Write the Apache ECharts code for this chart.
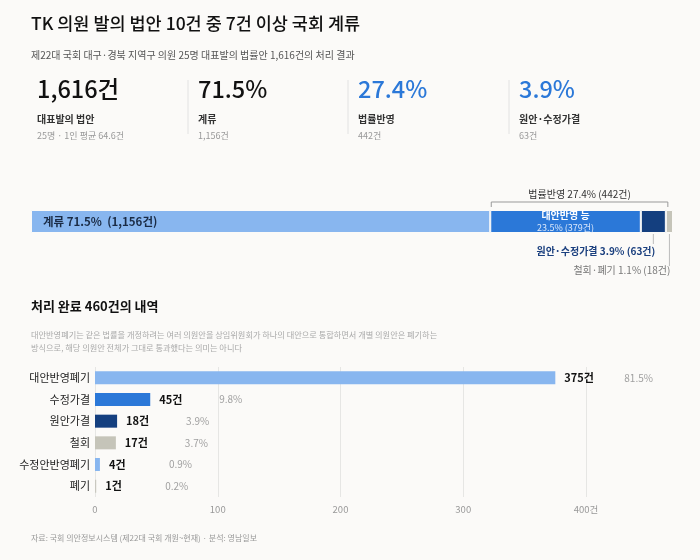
<!DOCTYPE html>
<html>
<head>
<meta charset="utf-8">
<script src="https://cdn.jsdelivr.net/npm/echarts@6/dist/echarts.min.js"></script>
<style>
  html, body { margin: 0; padding: 0; background: #fbfaf8; }
  #chart { width: 700px; height: 560px; }
</style>
</head>
<body>
<div id="chart"></div>
<script>
const FONT = '"Noto Sans CJK KR", "Noto Sans", sans-serif';

// 상단 요약 수치
const kpiValues = ['1,616건', '71.5%', '27.4%', '3.9%'];
const kpiLabels = ['대표발의 법안', '계류', '법률반영', '원안·수정가결'];
const kpiNotes = ['25명 · 1인 평균 64.6건', '1,156건', '442건', '63건'];

// 전체 1,616건 처리 현황 (누적 막대)
const stackNames = ['계류', '대안반영 등', '원안·수정가결', '철회·폐기'];
const stackCounts = [1156, 379, 63, 18];
const stackShares = [71.5, 23.5, 3.9, 1.1];
const reflectedCount = 442;
const reflectedShare = 27.4;

// 처리 완료 460건의 내역
const doneCategories = ['대안반영폐기', '수정가결', '원안가결', '철회', '수정안반영폐기', '폐기'];
const doneCounts = [375, 45, 18, 17, 4, 1];
const doneShares = [81.5, 9.8, 3.9, 3.7, 0.9, 0.2];
const xTickMax = 400;
const xTickStep = 100;

// 색
const kpiColors = ['#111', '#111', '#2b78d8', '#2b78d8'];
const stackColors = ['#88b6ef', '#2b78d8', '#143f7f', '#c5c4b9'];
const doneColors = ['#88b6ef', '#2b78d8', '#143f7f', '#c5c4b9', '#88b6ef', '#c9c8c0'];

function fmt(n) {
  return n.toLocaleString('en-US');
}

function headerGraphics() {
  let g = [];
  g.push({ type: 'text', left: 31, top: 15, style: { text: 'TK 의원 발의 법안 10건 중 7건 이상 국회 계류', font: '500 17.5px ' + FONT, fill: '#111' } });
  g.push({ type: 'text', left: 31, top: 50, style: { text: '제22대 국회 대구·경북 지역구 의원 25명 대표발의 법률안 1,616건의 처리 결과', font: '10px ' + FONT, fill: '#555' } });
  let colX = [37, 198, 358, 519];
  for (var i = 0; i < kpiValues.length; i++) {
    g.push({ type: 'text', left: colX[i], top: 77, style: { text: kpiValues[i], font: '500 23.5px ' + FONT, fill: kpiColors[i] } });
    g.push({ type: 'text', left: colX[i], top: 114, style: { text: kpiLabels[i], font: 'bold 10px ' + FONT, fill: '#333' } });
    g.push({ type: 'text', left: colX[i], top: 131, style: { text: kpiNotes[i], font: '9px ' + FONT, fill: '#999' } });
    if (i > 0) {
      g.push({ type: 'line', shape: { x1: colX[i] - 10, y1: 80, x2: colX[i] - 10, y2: 134 }, style: { stroke: '#e2e2e2', lineWidth: 1 } });
    }
  }
  g.push({ type: 'text', left: 31, top: 300, style: { text: '처리 완료 460건의 내역', font: 'bold 13px ' + FONT, fill: '#111' } });
  g.push({ type: 'text', left: 31, top: 328, style: {
    text: '대안반영폐기는 같은 법률을 개정하려는 여러 의원안을 상임위원회가 하나의 대안으로 통합하면서 개별 의원안은 폐기하는\n방식으로, 해당 의원안 전체가 그대로 통과했다는 의미는 아니다',
    font: '8.2px ' + FONT, fill: '#aaa', lineHeight: 13 } });
  g.push({ type: 'text', left: 31, top: 534, style: { text: '자료: 국회 의안정보시스템 (제22대 국회 개원~현재) · 분석: 영남일보', font: '8px ' + FONT, fill: '#999' } });
  return g;
}

function stackSeries() {
  let list = [];
  for (var i = 0; i < stackNames.length; i++) {
    let s = {
      name: stackNames[i],
      type: 'bar',
      stack: 'all',
      xAxisIndex: 0,
      yAxisIndex: 0,
      barWidth: 23,
      silent: true,
      itemStyle: { color: stackColors[i], borderColor: '#fbfaf8', borderWidth: 1 },
      data: [stackCounts[i]]
    };
    if (i == 0) {
      s.label = { show: true, position: 'insideLeft', distance: 12, color: '#1a2b45', fontFamily: FONT, fontWeight: 'bold', fontSize: 11.5,
        formatter: stackNames[0] + ' ' + stackShares[0] + '%  (' + fmt(stackCounts[0]) + '건)' };
    } else if (i == 1) {
      s.label = { show: true, position: 'inside', formatter: '{a|' + stackNames[1] + '}\n{b|' + stackShares[1] + '% (' + stackCounts[1] + '건)}',
        rich: { a: { color: '#fff', fontFamily: FONT, fontWeight: 'bold', fontSize: 10, lineHeight: 12 },
                b: { color: '#dce9fb', fontFamily: FONT, fontSize: 9, lineHeight: 12 } } };
    }
    list.push(s);
  }
  return list;
}

const chart = echarts.init(document.getElementById('chart'), null, { renderer: 'canvas' });

const option = {
  backgroundColor: '#fbfaf8',
  animation: false,
  textStyle: { fontFamily: FONT },
  grid: [
    { left: 31, top: 210, width: 642, height: 23 },
    { left: 95, top: 367, width: 491, height: 130 }
  ],
  xAxis: [
    { gridIndex: 0, type: 'value', min: 0, max: stackCounts.reduce((a, b) => a + b, 0), show: false },
    { gridIndex: 1, type: 'value', min: 0, max: xTickMax, interval: xTickStep,
      axisLine: { show: false }, axisTick: { show: false },
      splitLine: { lineStyle: { color: '#e6e6e4' } },
      axisLabel: { color: '#999', fontSize: 9.5, margin: 8,
        formatter: v => (v == xTickMax ? v + '건' : String(v)) } }
  ],
  yAxis: [
    { gridIndex: 0, type: 'category', data: ['전체'], show: false },
    { gridIndex: 1, type: 'category', data: doneCategories, inverse: true,
      axisLine: { show: false }, axisTick: { show: false },
      axisLabel: { color: '#222', fontSize: 11, margin: 5 } }
  ],
  series: stackSeries().concat([
    {
      type: 'bar',
      xAxisIndex: 1,
      yAxisIndex: 1,
      barWidth: 13,
      silent: true,
      data: doneCounts.map((v, i) => ({ value: v, itemStyle: { color: doneColors[i] } })),
      label: {
        show: true, position: 'right', distance: 9,
        formatter: p => '{v|' + p.value + '건}{p|' + doneShares[p.dataIndex] + '%}',
        rich: {
          v: { fontFamily: FONT, fontWeight: 'bold', fontSize: 11, color: '#111', width: 60 },
          p: { fontFamily: FONT, fontSize: 10, color: '#a0a0a0' }
        }
      }
    }
  ]),
  graphic: headerGraphics()
};

chart.setOption(option);

// 누적 막대 주석 (괄호, 지시선) - 축 좌표로 계산
function annotate() {
  let x = v => chart.convertToPixel({ xAxisIndex: 0 }, v);
  let cy = chart.convertToPixel({ yAxisIndex: 0 }, 0);
  let top = cy - 11.5, bottom = cy + 11.5;
  let a = stackCounts[0];
  let b = a + stackCounts[1] + stackCounts[2];
  let total = b + stackCounts[3];
  let g = headerGraphics();
  let x1 = x(a) + 1, x2 = x(b) + 2;
  g.push({ type: 'polyline', shape: { points: [[x1, top - 3], [x1, top - 8], [x2, top - 8], [x2, top - 3]] }, style: { stroke: '#999', lineWidth: 1, fill: null } });
  g.push({ type: 'text', x: (x1 + x2) / 2, y: top - 16, style: { text: '법률반영 ' + reflectedShare + '% (' + reflectedCount + '건)', font: '10px ' + FONT, fill: '#333', align: 'center', verticalAlign: 'middle' } });
  let nx = x(b - stackCounts[2] / 2);
  g.push({ type: 'line', shape: { x1: nx, y1: bottom + 1, x2: nx, y2: bottom + 11 }, style: { stroke: '#bbb', lineWidth: 1 } });
  g.push({ type: 'text', x: nx + 2, y: bottom + 18, style: { text: stackNames[2] + ' ' + stackShares[2] + '% (' + stackCounts[2] + '건)', font: 'bold 10px ' + FONT, fill: '#1a3f7e', align: 'right', verticalAlign: 'middle' } });
  let gx = x(total - stackCounts[3] / 2);
  g.push({ type: 'line', shape: { x1: gx, y1: bottom + 1, x2: gx, y2: bottom + 33 }, style: { stroke: '#bbb', lineWidth: 1 } });
  g.push({ type: 'text', x: gx + 1, y: bottom + 37, style: { text: stackNames[3] + ' ' + stackShares[3] + '% (' + stackCounts[3] + '건)', font: '10px ' + FONT, fill: '#777', align: 'right', verticalAlign: 'middle' } });
  chart.setOption({ graphic: g }, { replaceMerge: ['graphic'] });
}

annotate();
</script>
</body>
</html>
